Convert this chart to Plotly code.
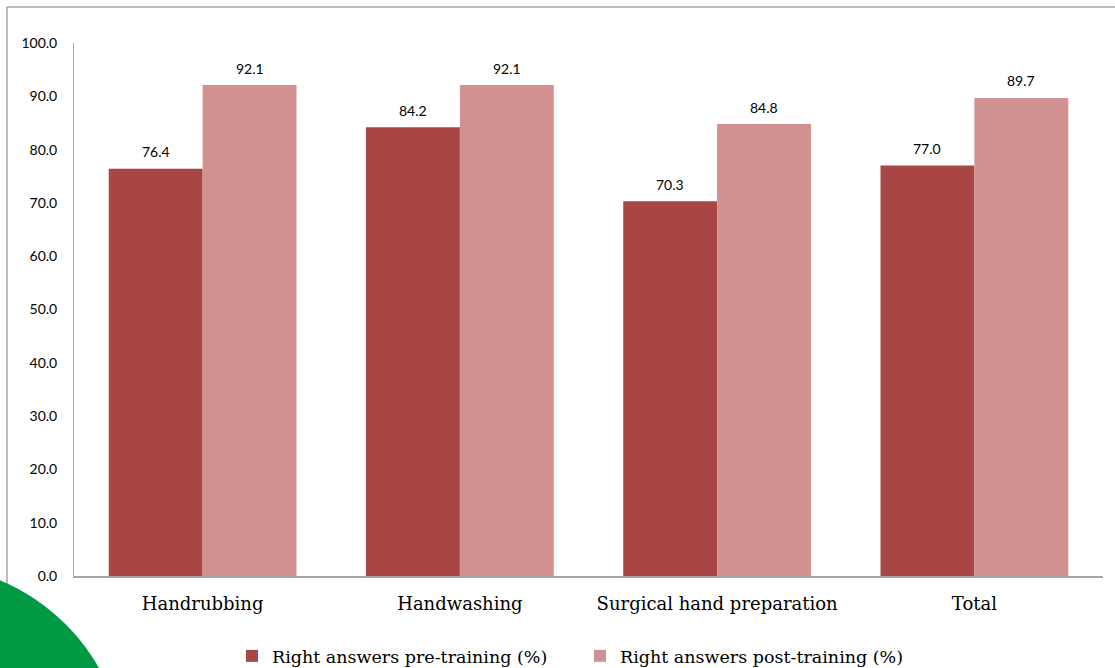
import plotly.graph_objects as go

categories = ["Handrubbing", "Handwashing", "Surgical hand preparation", "Total"]
pre_training = [76.4, 84.2, 70.3, 77.0]
post_training = [92.1, 92.1, 84.8, 89.7]
y_ticks = [0, 10, 20, 30, 40, 50, 60, 70, 80, 90, 100]
y_tick_labels = ["%.1f" % v for v in y_ticks]

W, H = 1115, 668
L, R, T, B = 74, 12, 43, 92
pw, ph = W - L - R, H - T - B

def px(x):
    return (x - L) / pw

def py(y):
    return (H - B - y) / ph

label_font = dict(family="Lato, Open Sans, sans-serif", size=14, color="#000000")

fig = go.Figure()
fig.add_trace(go.Bar(
    x=categories, y=pre_training, name="Right answers pre-training (%)",
    marker=dict(color="#A84645", line=dict(width=0)),
))
fig.add_trace(go.Bar(
    x=categories, y=post_training, name="Right answers post-training (%)",
    marker=dict(color="#D29191", line=dict(width=0)),
))

annotations = []
for series, shift in ((pre_training, -47), (post_training, 47)):
    for cat, v in zip(categories, series):
        annotations.append(dict(x=cat, y=v, xref="x", yref="y", text="%.1f" % v,
                                showarrow=False, xshift=shift, yshift=17,
                                yanchor="middle", font=label_font))

fig.update_layout(
    width=W, height=H,
    margin=dict(l=L, r=R, t=T, b=B, autoexpand=False),
    paper_bgcolor="white", plot_bgcolor="white",
    barmode="group", bargap=0.27, bargroupgap=0,
    showlegend=True,
    legend=dict(orientation="h", x=px(232), xanchor="left", y=py(656), yanchor="middle",
                font=dict(family="DejaVu Serif, serif", size=17.5, color="#000000"),
                itemwidth=30, entrywidth=303, traceorder="normal"),
    xaxis=dict(showline=True, linecolor="#A6A6A6", linewidth=2, ticks="",
               ticklabelstandoff=10,
               tickfont=dict(family="DejaVu Serif, serif", size=18, color="#000000"),
               showgrid=False, zeroline=False),
    yaxis=dict(range=[0, 100], tickvals=y_ticks, ticktext=y_tick_labels,
               showline=True, linecolor="#A6A6A6", linewidth=1, ticks="",
               ticklabelstandoff=13,
               tickfont=dict(family="Lato, Open Sans, sans-serif", size=14, color="#000000"),
               showgrid=False, zeroline=False),
    annotations=annotations,
    shapes=[
        dict(type="line", xref="paper", yref="paper", x0=px(7), x1=px(1115), y0=py(7), y1=py(7),
             line=dict(color="#A6A6A6", width=1.5)),
        dict(type="line", xref="paper", yref="paper", x0=px(7), x1=px(7), y0=py(7), y1=py(600),
             line=dict(color="#A6A6A6", width=1.5)),
        dict(type="circle", xref="paper", yref="paper", x0=px(-286), x1=px(126), y0=py(564), y1=py(976),
             fillcolor="#009A44", line=dict(width=0), layer="above"),
    ],
)

fig.write_html("out.html", config={"displayModeBar": False},
               post_script="document.body.style.margin='0';document.body.style.overflow='hidden';")
